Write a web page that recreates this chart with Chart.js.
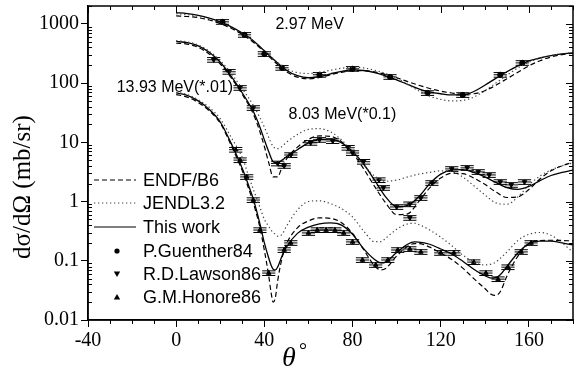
<!DOCTYPE html>
<html><head><meta charset="utf-8">
<script src="https://cdn.jsdelivr.net/npm/chart.js@4/dist/chart.umd.min.js"></script>
<style>html,body{margin:0;padding:0;background:#fff;}#wrap{width:578px;height:373px;}</style>
</head><body><div id="wrap"><canvas id="c" width="578" height="373"></canvas></div>
<script>
// ---- tick labels ----
const xTicks = [-40, 0, 40, 80, 120, 160];
const yTicks = [0.01, 0.1, 1, 10, 100, 1000];

// ---- 2.97 MeV ----
const ang297 = [0,5,10,15,20,25,30,35,40,45,50,55,60,65,70,75,80,85,90,95,100,105,110,115,120,125,130,135,140,145,150,155,160,165,170,175,180];
const work297 = [1550,1490,1390,1250,1080,890,700,520,350,235,165,133,123,128,143,158,167,163,150,132,113,95,80,71,66,63,63,72,92,120,155,195,237,265,290,310,324];
const endf297 = [1360,1330,1270,1160,1010,840,660,490,335,222,155,126,118,124,138,152,162,162,154,140,123,106,92,81,73,68,65,66,74,92,118,152,195,238,275,302,320];
const jendl297 = [1480,1430,1340,1200,1040,860,680,510,350,240,175,150,145,152,165,178,185,180,165,145,122,95,74,60,53,50,51,58,74,100,135,180,225,262,292,312,326];
const exp297Ang = [21,31,40,48,65,80,97,114,130,147,157];
const exp297Val = [1080,652,310,181,138,174,127,68,63,138,219];

// ---- 8.03 MeV (*0.1) ----
const ang803 = [0,5,10,15,20,25,30,35,38,40,42,44,46,48,50,55,60,65,70,75,80,85,90,95,100,105,110,115,120,125,130,135,140,145,150,155,160,165,170,175,180];
const work803 = [506,480,425,330,225,130,68,33,18,11,6.9,4.7,4.5,5.0,5.7,7.5,9.8,11.2,11.3,9.8,7.0,4.3,2.3,1.2,0.82,0.86,1.2,2.0,2.9,3.4,3.45,3.1,2.6,2.1,1.72,1.6,1.8,2.25,2.75,3.1,3.4];
const endf803 = [470,455,400,310,210,122,64,30,15,8.5,4.5,2.6,2.6,3.8,5.2,8.3,11.2,12.8,12.6,10.2,6.6,3.6,1.8,0.95,0.6,0.62,1.0,1.7,2.5,3.0,2.95,2.5,1.95,1.45,1.17,1.2,1.6,2.4,3.3,4.0,4.6];
const jendl803 = [520,495,440,345,240,145,80,42,26,18,12,8.5,7.8,8.5,10,13.5,16.5,17,15,11,7,4.2,2.7,2.2,2.3,2.6,2.9,3.1,3.3,3.2,2.6,1.85,1.3,0.95,0.9,1.2,1.9,2.7,3.4,4.0,4.5];
const exp803Ang = [17,24,29,35,46,49,52,61,65,71,78,80,85,92,94,100,106,106,111,116,125,132,137,142,147,152,158];
const exp803Val = [247,155,83,38,4.4,4.0,6.1,9.8,11,10.5,8.1,6.6,4.7,2.3,1.7,0.81,0.9,0.53,1.15,2.06,3.55,3.7,3.16,2.81,2.14,1.91,2.14];

// ---- 13.93 MeV (*0.01) ----
const ang1393 = [0,5,10,15,20,25,30,33,35,38,40,42,43,44,45,46,48,50,55,60,65,70,75,80,85,90,93,95,100,105,108,110,115,120,125,130,135,140,143,145,147,150,155,160,165,170,175,180];
const work1393 = [68,62,50,36,22,9.5,3.6,1.8,1.1,0.42,0.2,0.11,0.085,0.072,0.07,0.078,0.12,0.17,0.29,0.37,0.42,0.435,0.4,0.28,0.16,0.105,0.092,0.095,0.138,0.19,0.208,0.207,0.19,0.158,0.13,0.098,0.072,0.056,0.051,0.052,0.058,0.08,0.135,0.195,0.215,0.215,0.2,0.185];
const endf1393 = [64,58,47,34,21,8.8,3.3,1.6,0.95,0.36,0.15,0.055,0.03,0.02,0.024,0.045,0.11,0.19,0.36,0.47,0.53,0.52,0.44,0.29,0.155,0.082,0.07,0.074,0.12,0.175,0.195,0.195,0.17,0.135,0.105,0.075,0.05,0.034,0.027,0.026,0.03,0.055,0.12,0.195,0.22,0.222,0.22,0.216];
const jendl1393 = [70,64,52,39,25,12,5.5,2.6,1.6,0.8,0.5,0.38,0.33,0.3,0.28,0.26,0.28,0.38,0.72,1.0,1.03,0.92,0.76,0.55,0.32,0.21,0.21,0.24,0.34,0.42,0.43,0.41,0.33,0.25,0.18,0.125,0.095,0.085,0.088,0.095,0.11,0.14,0.22,0.28,0.3,0.27,0.2,0.14];
const exp1393Ang = [27,29,32,35,38,42,49,52,60,64,68,72,76,80,84.5,90.5,96,100.5,106,111,120,126,135,140.5,146,150.5,156.5,161];
const exp1393Val = [7.5,5.0,2.6,1.06,0.33,0.062,0.152,0.2,0.295,0.33,0.33,0.33,0.295,0.208,0.103,0.085,0.103,0.152,0.158,0.141,0.136,0.136,0.095,0.062,0.049,0.078,0.141,0.2];

// ---- error bar sizes ----
const relErr = 0.09;   // relative cross-section uncertainty
const angErr = 3;      // angular resolution (deg)

const legendNames = ['ENDF/B6', 'JENDL3.2', 'This work', 'P.Guenther84', 'R.D.Lawson86', 'G.M.Honore86'];
const energyLabels = ['2.97 MeV', '8.03 MeV(*0.1)', '13.93 MeV(*.01)'];
const labelAnchors = [[45, 960], [51, 29], [-27, 83]];

const pts = (a, v) => a.map((t, i) => ({x: t, y: v[i]}));
const DASH = [5, 3], DOT = [1.3, 2.7];
function curve(a, v, kind) {
  const st = {
    endf: {dash: DASH, w: 1.2, c: '#000'},
    jendl: {dash: DOT, w: 1.2, c: '#444'},
    work: {dash: [], w: 1.3, c: '#000'}
  }[kind];
  return {type: 'line', data: pts(a, v), borderColor: st.c, borderWidth: st.w, borderDash: st.dash,
    pointRadius: 0, fill: false, cubicInterpolationMode: 'monotone'};
}
function expSet(a, v, style, rot) {
  return {type: 'scatter', data: pts(a, v), errBars: true, pointStyle: style, rotation: rot || 0,
    pointRadius: 2.6, backgroundColor: '#000', borderColor: '#000', borderWidth: 1};
}

const datasets = [
  curve(ang297, endf297, 'endf'), curve(ang297, jendl297, 'jendl'), curve(ang297, work297, 'work'),
  curve(ang803, endf803, 'endf'), curve(ang803, jendl803, 'jendl'), curve(ang803, work803, 'work'),
  curve(ang1393, endf1393, 'endf'), curve(ang1393, jendl1393, 'jendl'), curve(ang1393, work1393, 'work'),
  expSet(exp297Ang, exp297Val, 'circle'),
  expSet(exp803Ang, exp803Val, 'triangle', 180),
  expSet(exp1393Ang, exp1393Val, 'triangle')
];

const deco = {
  id: 'deco',
  beforeDatasetsDraw(chart) {
    const {ctx, scales: {x, y}} = chart;
    ctx.save(); ctx.strokeStyle = '#000'; ctx.lineWidth = 1;
    chart.data.datasets.forEach(ds => {
      if (!ds.errBars) return;
      ds.data.forEach(p => {
        const px = x.getPixelForValue(p.x), py = y.getPixelForValue(p.y);
        const xl = x.getPixelForValue(p.x - angErr), xr = x.getPixelForValue(p.x + angErr);
        const yt = y.getPixelForValue(p.y * (1 + relErr)), yb = y.getPixelForValue(p.y * (1 - relErr));
        ctx.beginPath();
        ctx.moveTo(xl, py); ctx.lineTo(xr, py);
        ctx.moveTo(px, yt); ctx.lineTo(px, yb);
        ctx.moveTo(xl, yt); ctx.lineTo(xr, yt);
        ctx.moveTo(xl, yb); ctx.lineTo(xr, yb);
        ctx.stroke();
      });
    });
    ctx.restore();
  },
  afterDraw(chart) {
    const {ctx, chartArea: ca, scales: {x, y}} = chart;
    ctx.save();
    ctx.strokeStyle = '#000'; ctx.fillStyle = '#000';
    ctx.lineWidth = 1.5;
    ctx.strokeRect(ca.left, ca.top, ca.right - ca.left, ca.bottom - ca.top);
    ctx.lineWidth = 1;
    ctx.beginPath();
    for (let e = -2; e <= 3; e++) {
      for (let m = 1; m <= 9; m++) {
        const v = m * Math.pow(10, e);
        if (v > y.max) break;
        const py = Math.round(y.getPixelForValue(v)) + 0.5;
        const L = m === 1 ? 7 : 4;
        if (m !== 1) { ctx.moveTo(ca.left, py); ctx.lineTo(ca.left + L, py); }
        ctx.moveTo(ca.right, py); ctx.lineTo(ca.right - L, py);
      }
    }
    for (let t = -40; t <= 180; t += 10) {
      const px = Math.round(x.getPixelForValue(t)) + 0.5;
      const major = xTicks.includes(t);
      ctx.moveTo(px, ca.top); ctx.lineTo(px, ca.top + (major ? 7 : 4));
      if (!major) { ctx.moveTo(px, ca.bottom); ctx.lineTo(px, ca.bottom + 4); }
    }
    ctx.stroke();

    // legend
    const lx0 = ca.left + 6, lx1 = ca.left + 48, tx = ca.left + 55, mx = ca.left + 29;
    const rows = [180, 203, 227, 251, 274, 297];
    const dashes = [DASH, DOT, []];
    ctx.font = '18px "Liberation Sans", Arial, sans-serif';
    ctx.textBaseline = 'middle'; ctx.textAlign = 'left';
    rows.forEach((ry, i) => {
      if (i < 3) {
        ctx.beginPath(); ctx.setLineDash(dashes[i]); ctx.lineWidth = 1.2;
        ctx.strokeStyle = i === 1 ? '#444' : '#000';
        ctx.moveTo(lx0, ry); ctx.lineTo(lx1, ry); ctx.stroke(); ctx.setLineDash([]);
      } else {
        ctx.beginPath();
        if (i === 3) { ctx.arc(mx, ry, 2.6, 0, Math.PI * 2); }
        else if (i === 4) { ctx.moveTo(mx - 3.2, ry - 2.5); ctx.lineTo(mx + 3.2, ry - 2.5); ctx.lineTo(mx, ry + 3); ctx.closePath(); }
        else { ctx.moveTo(mx - 3.2, ry + 2.5); ctx.lineTo(mx + 3.2, ry + 2.5); ctx.lineTo(mx, ry - 3); ctx.closePath(); }
        ctx.fill();
      }
      ctx.fillStyle = '#000';
      ctx.fillText(legendNames[i], tx, ry + 1);
    });

    // energy labels
    ctx.font = '16px "Liberation Sans", Arial, sans-serif';
    energyLabels.forEach((s, i) => {
      ctx.fillText(s, x.getPixelForValue(labelAnchors[i][0]), y.getPixelForValue(labelAnchors[i][1]));
    });

    // axis titles
    ctx.save();
    ctx.translate(23, 187); ctx.rotate(-Math.PI / 2);
    ctx.textAlign = 'center';
    ctx.font = '25px "Liberation Serif", "Times New Roman", serif';
    ctx.fillText('dσ/dΩ (mb/sr)', 0, 0);
    ctx.restore();
    ctx.textAlign = 'left'; ctx.textBaseline = 'alphabetic';
    ctx.font = 'italic 28px "Liberation Serif", "Times New Roman", serif';
    ctx.fillText('θ', 282, 366);
    ctx.font = '20px "Liberation Serif", "Times New Roman", serif';
    ctx.fillText('°', 299, 357);
    ctx.restore();
  }
};

new Chart(document.getElementById('c'), {
  data: {datasets},
  options: {
    responsive: false, animation: false, devicePixelRatio: 1,
    layout: {padding: {top: 6, right: 5, left: 0, bottom: 0}},
    plugins: {legend: {display: false}, tooltip: {enabled: false}},
    scales: {
      x: {
        type: 'linear', min: -40, max: 180,
        afterBuildTicks: s => { s.ticks = xTicks.map(v => ({value: v})); },
        afterFit: s => { s.height = 53; s.paddingLeft = 0; s.paddingRight = 0; },
        grid: {display: true, drawOnChartArea: false, drawTicks: true, tickLength: 7, color: '#000', lineWidth: 1},
        border: {display: true, color: '#000', width: 1.5},
        ticks: {color: '#000', padding: 2, maxRotation: 0, font: {family: '"Liberation Serif", "Times New Roman", serif', size: 20}}
      },
      y: {
        type: 'logarithmic', min: 0.01, max: 2000,
        afterBuildTicks: s => { s.ticks = yTicks.map(v => ({value: v})); },
        afterFit: s => { s.width = 88; s.paddingTop = 0; s.paddingBottom = 0; },
        grid: {display: true, drawOnChartArea: false, drawTicks: true, tickLength: 7, color: '#000', lineWidth: 1},
        border: {display: true, color: '#000', width: 1.5},
        ticks: {color: '#000', padding: 2, font: {family: '"Liberation Serif", "Times New Roman", serif', size: 20},
          callback: v => yTicks.includes(v) ? String(v) : ''}
      }
    }
  },
  plugins: [deco]
});
</script></body></html>
